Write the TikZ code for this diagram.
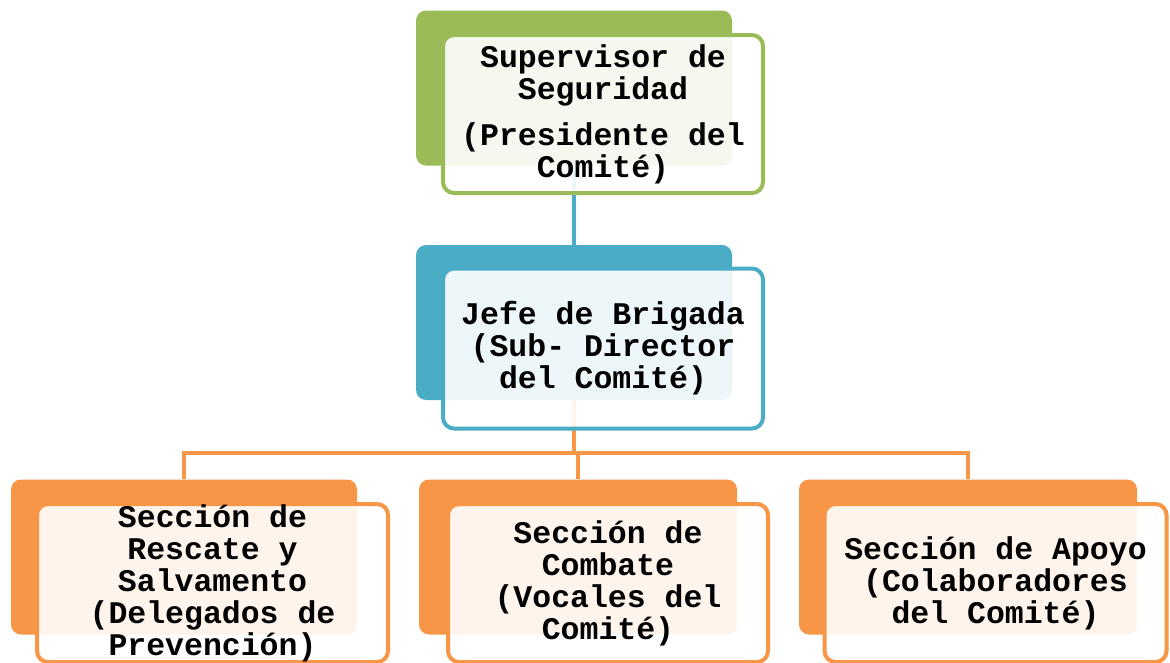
\documentclass[tikz,border=0pt]{standalone}
\usepackage{fontspec}
\setmainfont{Liberation Mono}
\usetikzlibrary{backgrounds}
\definecolor{cgreen}{HTML}{9BBB59}
\definecolor{cteal}{HTML}{4BACC6}
\definecolor{corange}{HTML}{F79646}
\begin{document}
\begin{tikzpicture}[x=1pt,y=-1pt,
  back/.style={rectangle, rounded corners=10pt, fill=#1, draw=none, inner sep=0pt, minimum width=316pt, minimum height=155pt},
  front/.style={rectangle, rounded corners=11pt, fill=white, fill opacity=0.9, text opacity=1, draw=#1, line width=4pt, inner sep=0pt, minimum width=320pt, minimum height=158pt, align=center, font=\fontsize{31.5}{32}\selectfont\bfseries},
  conn/.style={draw=#1, line width=4.5pt}]
\clip (0,0) rectangle (1170,662);
% top
\node[back=cgreen] (sb) at (574,88) {};
\node[front=cgreen] (sf) at (603,114) {Supervisor de\\Seguridad\\[14pt](Presidente del\\Comité)};
% middle
\node[back=cteal] (jb) at (574,322.5) {};
\node[front=cteal, minimum height=160pt] (jf) at (603,348.5) {Jefe de Brigada\\(Sub- Director\\del Comité)};
% bottom
\node[back=corange, minimum width=346pt] (b1b) at (184,557) {};
\node[front=corange, minimum width=351pt, minimum height=158pt] (b1f) at (212.5,583) {Sección de\\Rescate y\\Salvamento\\(Delegados de\\Prevención)};
\node[back=corange, minimum width=318pt] (b2b) at (578,557) {};
\node[front=corange, minimum width=320pt, minimum height=158pt] (b2f) at (608,583) {Sección de\\Combate\\(Vocales del\\Comité)};
\node[back=corange, minimum width=338pt] (b3b) at (968,557) {};
\node[front=corange, minimum width=342pt, minimum height=158pt] (b3f) at (995.5,583) {Sección de Apoyo\\(Colaboradores\\del Comité)};
\coordinate (bus) at (jb.south |- 0,453);
\begin{scope}[on background layer]
\fill[white] (0,0) rectangle (1170,662);
\draw[conn=cteal] (sb.south) -- (jb.north);
\draw[conn=corange] (jb.south) -- (bus);
\draw[conn=corange] (b1b.north) |- (bus) -| (b3b.north);
\draw[conn=corange] (bus) -| (b2b.north);
\end{scope}
\end{tikzpicture}
\end{document}
